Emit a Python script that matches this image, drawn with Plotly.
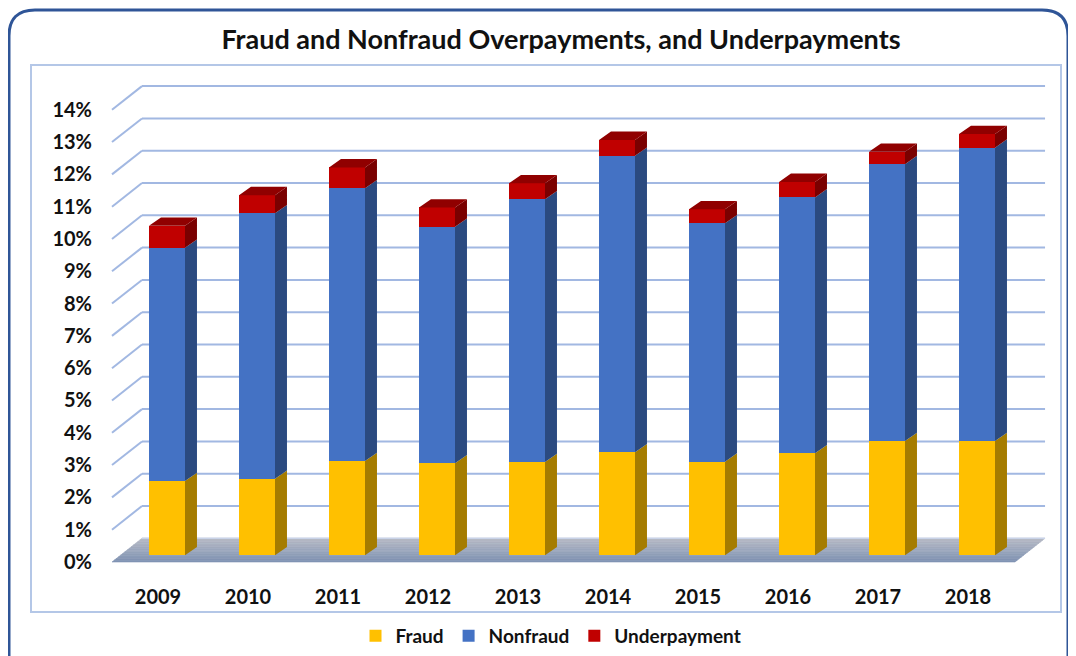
import plotly.graph_objects as go

# ---------------- data ----------------
years = ["2009", "2010", "2011", "2012", "2013", "2014", "2015", "2016", "2017", "2018"]
fraud = [2.30, 2.37, 2.92, 2.85, 2.89, 3.19, 2.90, 3.16, 3.54, 3.54]
nonfraud = [7.22, 8.22, 8.44, 7.32, 8.13, 9.18, 7.38, 7.92, 8.57, 9.08]
underpayment = [0.68, 0.56, 0.65, 0.60, 0.50, 0.49, 0.43, 0.48, 0.38, 0.42]
y_ticks = list(range(0, 15))
y_tick_labels = [f"{v}%" for v in y_ticks]

# ---------------- styling / geometry ----------------
OFF = 8                         # page body margin of the browser
W, H = 1076 - OFF, 656 - OFF
ML, MR, MT, MB = 100 - OFF, 0, 0, 75
PW, PH = W - ML - MR, H - MT - MB

BAR_W = 0.4
DX, DY = 0.133, 0.257          # 3-D depth of each bar (data units)
FLOOR_FRONT_Y, WALL_Y0 = -0.207, 0.526
FL_FRONT, WALL_L, WALL_R, FR_FRONT = -0.611, -0.278, 9.756, 9.422
LABEL_SHIFT = -0.1

C = dict(
    fraud="#FFC000", fraud_side="#A57C00",
    nonfraud="#4472C4", nonfraud_side="#2B4A80",
    under="#C00000", under_side="#7A0000", under_top="#900000",
    grid="#A2B8E2",
)

n = len(years)
xs = list(range(n))

fig = go.Figure()

# front faces (library bars)
fig.add_trace(go.Bar(name="Fraud", x=xs, y=fraud, width=BAR_W,
                     marker=dict(color=C["fraud"], line=dict(width=0))))
fig.add_trace(go.Bar(name="Nonfraud", x=xs, y=nonfraud, width=BAR_W,
                     marker=dict(color=C["nonfraud"], line=dict(width=0))))
fig.add_trace(go.Bar(name="Underpayment", x=xs, y=underpayment, width=BAR_W,
                     marker=dict(color=C["under"], line=dict(width=0))))


def side_polys(bottoms, tops):
    px, py = [], []
    for i in xs:
        xr = i + BAR_W / 2
        b, t = bottoms[i], tops[i]
        px += [xr, xr + DX, xr + DX, xr, xr, None]
        py += [b, b + DY, t + DY, t, b, None]
    return px, py


base0 = [0.0] * n
top_f = [fraud[i] for i in xs]
top_n = [fraud[i] + nonfraud[i] for i in xs]
top_u = [fraud[i] + nonfraud[i] + underpayment[i] for i in xs]

for (b, t, col) in [(base0, top_f, C["fraud_side"]),
                    (top_f, top_n, C["nonfraud_side"]),
                    (top_n, top_u, C["under_side"])]:
    px, py = side_polys(b, t)
    fig.add_trace(go.Scatter(x=px, y=py, mode="lines", fill="toself",
                             fillcolor=col, line=dict(width=0),
                             hoverinfo="skip", showlegend=False))

# top faces of the stacks
tx, ty = [], []
for i in xs:
    xl, xr = i - BAR_W / 2, i + BAR_W / 2
    t = top_u[i]
    tx += [xl, xr, xr + DX, xl + DX, xl, None]
    ty += [t, t, t + DY, t + DY, t, None]
fig.add_trace(go.Scatter(x=tx, y=ty, mode="lines", fill="toself",
                         fillcolor=C["under_top"], line=dict(width=0),
                         hoverinfo="skip", showlegend=False))

shapes = []


def lerp(a, b, t):
    return a + (b - a) * t


def hexrgb(h):
    h = h.lstrip("#")
    return tuple(int(h[k:k + 2], 16) for k in (0, 2, 4))


# floor with a vertical gradient (bands)
c_back, c_front = hexrgb("#B8BCC6"), hexrgb("#7F91B2")
NB = 14
for k in range(NB):
    t0, t1 = k / NB, (k + 1) / NB
    y0 = lerp(WALL_Y0, FLOOR_FRONT_Y, t0)
    y1 = lerp(WALL_Y0, FLOOR_FRONT_Y, t1)
    l0, l1 = lerp(WALL_L, FL_FRONT, t0), lerp(WALL_L, FL_FRONT, t1)
    r0, r1 = lerp(WALL_R, FR_FRONT, t0), lerp(WALL_R, FR_FRONT, t1)
    tm = (t0 + t1) / 2
    col = "rgb(%d,%d,%d)" % tuple(round(lerp(c_back[j], c_front[j], tm)) for j in range(3))
    shapes.append(dict(type="path", xref="x", yref="y", layer="below",
                       path=f"M{l0},{y0} L{r0},{y0} L{r1},{y1} L{l1},{y1} Z",
                       fillcolor=col, line=dict(width=0.6, color=col)))

# gridlines: back wall and left side
for v in y_ticks:
    if v > 0:
        shapes.append(dict(type="line", xref="x", yref="y", layer="below",
                           x0=WALL_L, x1=WALL_R, y0=WALL_Y0 + v, y1=WALL_Y0 + v,
                           line=dict(color=C["grid"], width=2)))
        shapes.append(dict(type="line", xref="x", yref="y", layer="below",
                           x0=FL_FRONT, x1=WALL_L, y0=FLOOR_FRONT_Y + v, y1=WALL_Y0 + v,
                           line=dict(color=C["grid"], width=2)))
    else:
        shapes.append(dict(type="line", xref="x", yref="y", layer="below",
                           x0=WALL_L, x1=WALL_R, y0=WALL_Y0, y1=WALL_Y0,
                           line=dict(color="#C9D3E8", width=1.5)))


# frames (screen pixel -> paper)
def pp(x, y):
    return (x - OFF - ML) / PW, (H - MB - (y - OFF)) / PH


def path_from(points):
    s = ""
    for cmd, pts in points:
        s += cmd + " ".join(f"{a:.5f},{b:.5f}" for a, b in (pp(*p) for p in pts)) + " "
    return s


L, T, R, B, r = 9, 10, 1068, 690, 26
outer = path_from([
    ("M", [(L, T + r)]), ("Q", [(L, T), (L + r, T)]), ("L", [(R - r, T)]),
    ("Q", [(R, T), (R, T + r)]), ("L", [(R, B - r)]), ("Q", [(R, B), (R - r, B)]),
    ("L", [(L + r, B)]), ("Q", [(L, B), (L, B - r)]), ("Z", []),
])
shapes.append(dict(type="path", xref="paper", yref="paper", path=outer,
                   line=dict(color="#2F5597", width=3), fillcolor="rgba(0,0,0,0)"))
x0p, y0p = pp(31, 65)
x1p, y1p = pp(1061, 612)
shapes.append(dict(type="rect", xref="paper", yref="paper", x0=x0p, y0=y1p, x1=x1p, y1=y0p,
                   line=dict(color="#B4C7E7", width=2), fillcolor="rgba(0,0,0,0)", layer="below"))

FONT = "Lato"
lx, ly = pp(551, 636)

fig.update_layout(
    width=W, height=H, autosize=False,
    margin=dict(l=ML, r=MR, t=MT, b=MB, pad=0),
    paper_bgcolor="white", plot_bgcolor="rgba(0,0,0,0)",
    barmode="stack", bargap=0,
    shapes=shapes,
    title=dict(text="Fraud and Nonfraud Overpayments, and Underpayments",
               x=(561 - OFF) / W, y=1 - (40 - OFF) / H, xanchor="center", yanchor="middle",
               font=dict(family=FONT, size=27, color="#111111", weight="bold")),
    xaxis=dict(range=[(100 - 167) / 90, (1076 - 167) / 90],
               tickvals=[i + LABEL_SHIFT for i in xs], ticktext=years,
               showgrid=False, zeroline=False, showline=False, ticks="",
               ticklabelstandoff=2,
               tickfont=dict(family=FONT, size=20, color="#111111", weight="bold"),
               fixedrange=True),
    yaxis=dict(range=[(555.3 - 581) / 32.3, (555.3 - OFF) / 32.3],
               tickvals=[v + FLOOR_FRONT_Y for v in y_ticks], ticktext=y_tick_labels,
               showgrid=False, zeroline=False, showline=False, ticks="",
               ticklabelstandoff=7,
               tickfont=dict(family=FONT, size=20, color="#111111", weight="bold"),
               fixedrange=True),
    legend=dict(orientation="h", x=lx, y=ly, xanchor="center", yanchor="middle",
                traceorder="normal", itemwidth=30,
                font=dict(family=FONT, size=19, color="#111111", weight="bold"),
                bgcolor="rgba(0,0,0,0)"),
    showlegend=True,
)

fig.write_html("out.html")
